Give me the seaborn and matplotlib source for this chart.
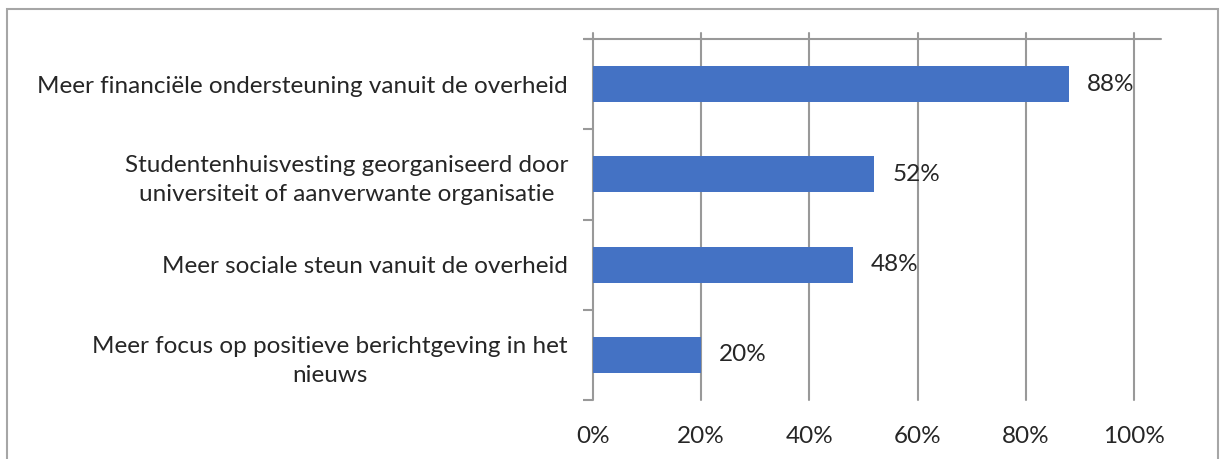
import matplotlib
matplotlib.use('Agg')
import matplotlib.pyplot as plt
import matplotlib.patches as patches
import seaborn as sns

categories = [
    'Meer financiële ondersteuning vanuit de overheid',
    'Studentenhuisvesting georganiseerd door\nuniversiteit of aanverwante organisatie',
    'Meer sociale steun vanuit de overheid',
    'Meer focus op positieve berichtgeving in het\nnieuws',
]
values = [0.88, 0.52, 0.48, 0.20]
value_labels = ['88%', '52%', '48%', '20%']
x_ticks = [0, 0.2, 0.4, 0.6, 0.8, 1.0]
x_tick_labels = ['0%', '20%', '40%', '60%', '80%', '100%']

sns.set_style('white')
plt.rcParams['font.family'] = ['Lato', 'DejaVu Sans']

bar_color = '#4472C4'
line_color = '#999999'
fs = 17.5

fig = plt.figure(figsize=(12.21, 4.59), dpi=100)
ax = fig.add_axes([593 / 1221, 1 - 400 / 459, 568 / 1221, 361 / 459])

sns.barplot(x=values, y=categories, color=bar_color, saturation=1,
            width=0.4, orient='h', ax=ax, zorder=3, linewidth=0)

ax.set_xlim(0, 1.05)
ax.set_ylim(3.5, -0.5)

for s in ax.spines.values():
    s.set_visible(False)

# vertical gridlines, poking a bit above the top line
for xv in x_ticks:
    ax.plot([xv, xv], [0, 1.017], color=line_color, lw=1.5,
            transform=ax.get_xaxis_transform(), clip_on=False, zorder=1)
# top line
ax.plot([-0.016, 1], [1, 1], color=line_color, lw=1.5,
        transform=ax.transAxes, clip_on=False, zorder=1)

ax.set_xticks(x_ticks)
ax.set_xticklabels(x_tick_labels, fontsize=fs)
ax.tick_params(axis='x', length=0, pad=19)

ax.set_yticks(range(len(categories)))
ax.set_yticklabels(categories, fontsize=fs, multialignment='center', linespacing=1.45)
ax.tick_params(axis='y', which='major', length=0, pad=18)
ax.set_yticks([-0.5, 0.5, 1.5, 2.5, 3.5], minor=True)
ax.tick_params(axis='y', which='minor', length=7, width=1.5, color=line_color, left=True)

ax.bar_label(ax.containers[0], labels=value_labels, padding=13, fontsize=fs)
ax.set_xlabel('')
ax.set_ylabel('')

# outer chart frame
fig.patches.append(patches.Rectangle((7 / 1221, -0.1), 1211 / 1221, 1 - 9 / 459 + 0.1,
                                     transform=fig.transFigure, fill=False,
                                     edgecolor='#A6A6A6', lw=1.5))

fig.savefig('out.png', dpi=100)
